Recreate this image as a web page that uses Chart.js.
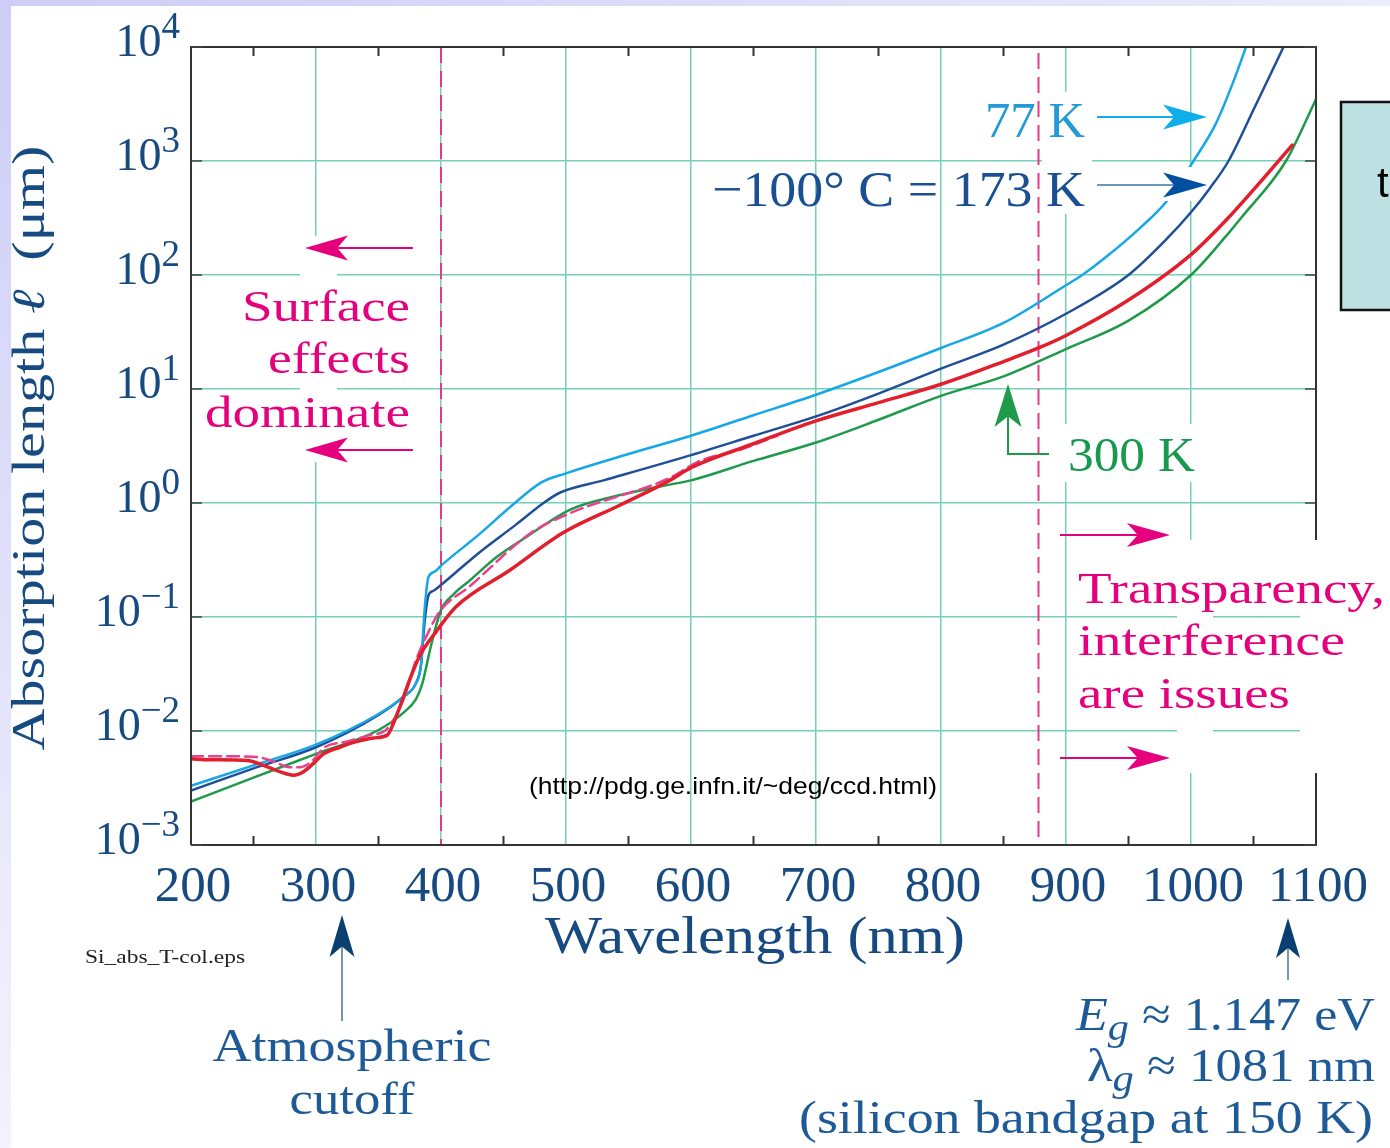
<!DOCTYPE html>
<html>
<head>
<meta charset="utf-8">
<script src="https://cdn.jsdelivr.net/npm/chart.js@4.4.1/dist/chart.umd.min.js"></script>
<style>
  html, body { margin: 0; padding: 0; background: #fff; }
  #wrap { position: relative; width: 1390px; height: 1148px; }
</style>
</head>
<body>
<div id="wrap"><canvas id="chart" width="1390" height="1148"></canvas></div>
<script>
// axis ticks
const xTicks = [200, 300, 400, 500, 600, 700, 800, 900, 1000, 1100];
const xMinor = [250, 350, 450, 550, 650, 750, 850, 950, 1050];
const yTicks = [1e-3, 1e-2, 1e-1, 1, 10, 100, 1000, 10000];
const yExp = ['\u22123', '\u22122', '\u22121', '0', '1', '2', '3', '4'];
const markLines = [400, 878];

// wavelength (nm) / absorption length (um)
const wl77 = [200, 250, 300, 350, 370, 380, 384, 387, 390, 395, 400, 430, 457, 480, 500, 550, 600, 650, 700, 750, 800, 850, 900, 913, 930, 960, 980, 1002, 1020, 1034, 1044];
const len77 = [0.0033, 0.0050, 0.0076, 0.0141, 0.0200, 0.0263, 0.038, 0.12, 0.224, 0.25, 0.282, 0.525, 0.955, 1.51, 1.82, 2.69, 3.89, 5.89, 8.91, 14.1, 22.9, 38.0, 81.3, 100, 138, 263, 437, 1000, 2140, 5010, 10000];

const wl173 = [200, 250, 300, 350, 370, 380, 384, 387, 390, 394, 400, 430, 460, 482, 495, 530, 600, 650, 700, 750, 800, 850, 900, 950, 980, 1000, 1015, 1030, 1050, 1074];
const len173 = [0.0030, 0.0047, 0.0072, 0.0138, 0.0200, 0.0263, 0.038, 0.093, 0.155, 0.17, 0.191, 0.363, 0.646, 1.0, 1.23, 1.58, 2.63, 3.89, 5.75, 9.12, 15.1, 24.5, 45.7, 100, 204, 355, 575, 1000, 2820, 10000];

const wl300 = [200, 250, 300, 350, 370, 380, 385, 392, 400, 410, 423, 445, 468, 503, 540, 583, 600, 650, 700, 750, 800, 850, 900, 950, 1000, 1028, 1040, 1076, 1100];
const len300 = [0.0024, 0.0039, 0.0063, 0.0102, 0.0145, 0.019, 0.026, 0.056, 0.115, 0.158, 0.209, 0.339, 0.501, 0.871, 1.15, 1.45, 1.58, 2.34, 3.39, 5.37, 8.71, 12.9, 22.4, 39.8, 100, 219, 316, 1000, 3470];

const wlMeas = [200, 215, 245, 258, 271, 282, 290, 298, 306, 319, 333, 346, 357, 362, 367, 375, 383, 396, 412, 455, 498, 543, 583, 600, 650, 700, 750, 800, 850, 878, 900, 950, 1000, 1028, 1055, 1081];
const lenMeas = [0.0057, 0.0056, 0.0055, 0.0050, 0.0044, 0.0041, 0.0044, 0.0052, 0.0063, 0.0072, 0.0081, 0.0087, 0.0092, 0.0117, 0.0162, 0.0282, 0.0457, 0.0741, 0.123, 0.257, 0.55, 0.955, 1.58, 2.04, 3.31, 5.25, 7.59, 11.0, 17.4, 22.9, 29.5, 60.3, 151, 302, 646, 1380];

const wlDash = [200, 230, 253, 266, 279, 287, 298, 306, 325, 343, 357, 370, 380, 390, 399, 423, 471, 503, 583, 607, 640, 669];
const lenDash = [0.0060, 0.0060, 0.0059, 0.0054, 0.0048, 0.0048, 0.0056, 0.0071, 0.0081, 0.0092, 0.0105, 0.019, 0.0417, 0.0741, 0.112, 0.186, 0.537, 0.813, 1.66, 2.34, 2.95, 3.89];

const SERIF = '"Liberation Serif", "Times New Roman", serif';
const SANS = '"Liberation Sans", Arial, sans-serif';
const tickBlue = '#174a80';
const noteBlue = '#1d5a96';
const pink = '#e5007d';
const teal = '#74d1b7';

const pts = (xs, ys) => xs.map((x, i) => ({ x: x, y: ys[i] }));

// draws a row of text pieces; width stretches the row like the original slide
function runs(c, parts, x, y, o) {
    const size = o.size, fam = o.fam || SERIF;
    const fontOf = p => (p.i ? 'italic ' : '') + (p.small ? Math.round(size * 0.8) : size) + 'px ' + fam;
    let w = 0;
    parts.forEach(p => { c.font = fontOf(p); p.w = c.measureText(p.t).width; w += p.w; });
    const sx = o.width ? o.width / w : (o.sx || 1);
    const tw = w * sx;
    let x0 = o.align === 'right' ? x - tw : o.align === 'center' ? x - tw / 2 : x;
    c.save();
    c.fillStyle = o.color;
    c.textAlign = 'left';
    c.textBaseline = 'alphabetic';
    parts.forEach(p => {
        c.font = fontOf(p);
        c.save();
        c.translate(x0, y + (p.dy || 0));
        c.scale(sx, 1);
        c.fillText(p.t, 0, 0);
        c.restore();
        x0 += p.w * sx;
    });
    c.restore();
}

function arrow(c, x1, y1, x2, y2, col, lw, len, half, lineCol) {
    const a = Math.atan2(y2 - y1, x2 - x1), ca = Math.cos(a), sa = Math.sin(a);
    const bx = x2 - len * ca, by = y2 - len * sa;
    c.save();
    c.strokeStyle = lineCol || col;
    c.lineWidth = lw;
    c.beginPath();
    c.moveTo(x1, y1);
    c.lineTo(bx + len * 0.3 * ca, by + len * 0.3 * sa);
    c.stroke();
    c.fillStyle = col;
    c.beginPath();
    c.moveTo(x2, y2);
    c.lineTo(bx - half * sa, by + half * ca);
    c.lineTo(bx + len * 0.25 * ca, by + len * 0.25 * sa);
    c.lineTo(bx + half * sa, by - half * ca);
    c.closePath();
    c.fill();
    c.restore();
}

const decor = {
    id: 'decor',
    beforeDraw(chart) {
        const c = chart.ctx;
        c.save();
        c.fillStyle = '#fff';
        c.fillRect(0, 0, chart.width, chart.height);
        let g = c.createLinearGradient(0, 0, chart.width, 0);
        g.addColorStop(0, '#cdcdf7');
        g.addColorStop(1, '#ececfb');
        c.fillStyle = g;
        c.fillRect(0, 0, chart.width, 6);
        g = c.createLinearGradient(0, 0, 0, chart.height);
        g.addColorStop(0, '#cdcdf7');
        g.addColorStop(1, '#f3f3fd');
        c.fillStyle = g;
        c.fillRect(0, 0, 11, chart.height);
        c.restore();
    },
    beforeDatasetsDraw(chart) {
        const c = chart.ctx, xs = chart.scales.x, a = chart.chartArea;
        c.save();
        // white knock-outs behind the labels
        c.fillStyle = '#fff';
        c.fillRect(300, 236, 37, 226);
        c.fillRect(1177, 540, 36, 233);
        c.fillRect(1300, 540, 30, 233);
        c.fillRect(1042, 92, 50, 122);
        c.fillRect(1062, 424, 138, 58);
        // dashed reference lines
        c.strokeStyle = '#e8388a';
        c.lineWidth = 2;
        c.setLineDash([16, 8]);
        markLines.forEach((v, i) => {
            const px = xs.getPixelForValue(v);
            c.beginPath();
            c.moveTo(px, i === 0 ? a.top : a.top + 6);
            c.lineTo(px, i === 0 ? a.bottom : a.bottom - 7);
            c.stroke();
        });
        c.restore();
    },
    afterDatasetsDraw(chart) {
        const c = chart.ctx, xs = chart.scales.x, ys = chart.scales.y, a = chart.chartArea;
        c.save();
        // gap in the 77 K curve under the 173 K arrow
        c.fillStyle = '#fff';
        c.fillRect(1158, 167, 38, 34);

        // frame (right side broken behind the text)
        c.strokeStyle = '#333';
        c.lineWidth = 2;
        c.beginPath();
        c.moveTo(a.left, a.bottom); c.lineTo(a.left, a.top); c.lineTo(a.right, a.top); c.lineTo(a.right, 540);
        c.moveTo(a.right, 773); c.lineTo(a.right, a.bottom); c.lineTo(a.left, a.bottom);
        c.stroke();
        xMinor.forEach(v => {
            const px = xs.getPixelForValue(v);
            c.beginPath();
            c.moveTo(px, a.top); c.lineTo(px, a.top + 9);
            c.moveTo(px, a.bottom); c.lineTo(px, a.bottom - 9);
            c.stroke();
        });
        c.lineWidth = 1.5;
        c.strokeStyle = '#444';
        yTicks.forEach(v => {
            const py = ys.getPixelForValue(v);
            c.beginPath();
            c.moveTo(a.left, py); c.lineTo(a.left + 11, py);
            if (py < 540 || py > 773) { c.moveTo(a.right, py); c.lineTo(a.right - 11, py); }
            c.stroke();
        });

        // tick labels
        yTicks.forEach((v, i) => {
            runs(c, [{ t: '10' }, { t: yExp[i], small: true, dy: -18 }], 180, ys.getPixelForValue(v) + 9,
                { size: 46, color: tickBlue, align: 'right' });
        });
        xTicks.forEach(v => {
            runs(c, [{ t: String(v) }], xs.getPixelForValue(v) + 2, 901, { size: 51, color: tickBlue, align: 'center' });
        });

        // axis titles
        runs(c, [{ t: 'Wavelength (nm)' }], 755, 953, { size: 52, color: tickBlue, align: 'center', width: 420 });
        c.save();
        c.translate(44, 448);
        c.rotate(-Math.PI / 2);
        runs(c, [{ t: 'Absorption length ' }, { t: '\u2113', i: true }, { t: '  (\u03bcm)' }], 0, 0,
            { size: 46, color: tickBlue, align: 'center', width: 605 });
        c.restore();

        // surface effects
        runs(c, [{ t: 'Surface' }], 410, 321, { size: 45, color: pink, align: 'right', width: 168 });
        runs(c, [{ t: 'effects' }], 410, 373, { size: 45, color: pink, align: 'right', width: 142 });
        runs(c, [{ t: 'dominate' }], 410, 427, { size: 45, color: pink, align: 'right', width: 205 });
        arrow(c, 413, 248, 305, 248, pink, 2, 43, 12.5);
        arrow(c, 413, 450, 305, 450, pink, 2, 43, 12.5);

        // transparency
        runs(c, [{ t: 'Transparency,' }], 1078, 603, { size: 45, color: pink, sx: 1.22 });
        runs(c, [{ t: 'interference' }], 1078, 655, { size: 45, color: pink, width: 267 });
        runs(c, [{ t: 'are issues' }], 1078, 708, { size: 45, color: pink, sx: 1.22 });
        arrow(c, 1060, 535, 1170, 535, pink, 2, 43, 12);
        arrow(c, 1060, 758, 1170, 758, pink, 2, 43, 12);

        // temperature labels
        runs(c, [{ t: '77 K' }], 985, 137, { size: 50, color: '#2399d6', width: 100 });
        arrow(c, 1097, 117, 1207, 117, '#0eaeea', 2, 44, 12.5);
        runs(c, [{ t: '\u2212100\u00b0 C = 173 K' }], 712, 206, { size: 50, color: '#1b4f94', width: 373 });
        arrow(c, 1097, 185, 1207, 185, '#0050a0', 1.5, 44, 12.5, '#3a76aa');
        runs(c, [{ t: '300 K' }], 1068, 471, { size: 48, color: '#17994f', width: 127 });
        c.strokeStyle = '#1f9a4b';
        c.lineWidth = 2;
        c.beginPath();
        c.moveTo(1049, 454); c.lineTo(1008, 454); c.lineTo(1008, 420);
        c.stroke();
        arrow(c, 1008, 454, 1008, 384, '#1f9a4b', 2, 43, 13.5);

        // source notes
        runs(c, [{ t: '(http://pdg.ge.infn.it/~deg/ccd.html)' }], 529, 794, { size: 24, color: '#000', fam: SANS, width: 408 });
        runs(c, [{ t: 'Si_abs_T-col.eps' }], 85, 963, { size: 18, color: '#222', width: 160 });

        // atmospheric cutoff
        arrow(c, 342, 1021, 342, 915, '#0b3f6f', 1.5, 42, 12.5, '#4b6f90');
        runs(c, [{ t: 'Atmospheric' }], 352, 1061, { size: 46, color: noteBlue, align: 'center', width: 279 });
        runs(c, [{ t: 'cutoff' }], 352, 1114, { size: 46, color: noteBlue, align: 'center', width: 125 });

        // band gap
        arrow(c, 1288, 980, 1288, 918, '#0b3f6f', 1.5, 40, 12, '#4b6f90');
        runs(c, [{ t: 'E', i: true }, { t: 'g', i: true, small: true, dy: 10 }, { t: ' \u2248 1.147 eV' }], 1375, 1030,
            { size: 47, color: noteBlue, align: 'right', width: 299 });
        runs(c, [{ t: '\u03bb' }, { t: 'g', i: true, small: true, dy: 10 }, { t: ' \u2248 1081 nm' }], 1375, 1081,
            { size: 47, color: noteBlue, align: 'right', width: 288 });
        runs(c, [{ t: '(silicon bandgap at 150 K)' }], 1373, 1133, { size: 47, color: noteBlue, align: 'right', width: 574 });

        // slide box cut off at the right edge
        c.fillStyle = '#bde0e2';
        c.fillRect(1341, 102, 60, 208);
        c.strokeStyle = '#111';
        c.lineWidth = 2.5;
        c.strokeRect(1341, 102, 60, 208);
        runs(c, [{ t: 't' }], 1377, 197, { size: 42, color: '#000', fam: SANS });
        c.restore();
    }
};

const series = (label, xs, ys, color, width) => ({
    label: label,
    data: pts(xs, ys),
    borderColor: color,
    borderWidth: width,
    fill: false
});

new Chart(document.getElementById('chart'), {
    type: 'line',
    data: {
        datasets: [
            series('measured', wlMeas, lenMeas, '#e11f2d', 3.5),
            { ...series('300 K data', wlDash, lenDash, '#e9418d', 2.5), borderDash: [12, 6] },
            series('77 K', wl77, len77, '#16a7e6', 2.5),
            series('173 K', wl173, len173, '#1f4f98', 2.5),
            series('300 K', wl300, len300, '#1f9a4b', 2.5)
        ]
    },
    options: {
        responsive: false,
        animation: false,
        devicePixelRatio: 1,
        layout: { padding: { left: 191, top: 47, right: 74, bottom: 303 } },
        plugins: { legend: { display: false }, tooltip: { enabled: false } },
        elements: {
            point: { radius: 0 },
            line: { cubicInterpolationMode: 'monotone', borderCapStyle: 'round', borderJoinStyle: 'round' }
        },
        scales: {
            x: {
                type: 'linear',
                min: 200,
                max: 1100,
                afterBuildTicks: s => { s.ticks = xTicks.map(v => ({ value: v })); },
                afterFit: s => { s.height = 0; },
                ticks: { display: false },
                grid: { color: teal, lineWidth: 1.5, drawTicks: false },
                border: { display: false }
            },
            y: {
                type: 'logarithmic',
                min: 1e-3,
                max: 1e4,
                afterBuildTicks: s => { s.ticks = yTicks.map(v => ({ value: v })); },
                afterFit: s => { s.width = 0; },
                ticks: { display: false },
                grid: { color: teal, lineWidth: 1.5, drawTicks: false },
                border: { display: false }
            }
        }
    },
    plugins: [decor]
});
</script>
</body>
</html>
